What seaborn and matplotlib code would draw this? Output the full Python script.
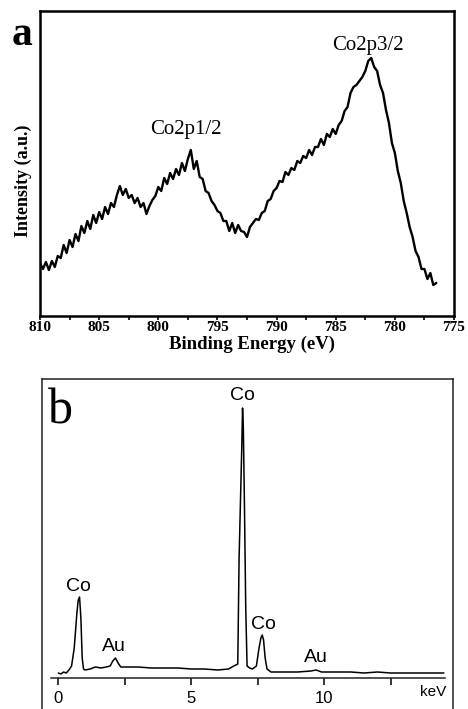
import pandas as pd
import matplotlib
matplotlib.use('Agg')
import matplotlib.pyplot as plt
import seaborn as sns

# XPS Co2p spectrum (panel a)
xps_energy = [
    810.0, 809.75, 809.5, 809.25, 809.0, 808.75, 808.5, 808.25,
    808.0, 807.75, 807.5, 807.25, 807.0, 806.75, 806.5, 806.25,
    806.0, 805.75, 805.5, 805.25, 805.0, 804.75, 804.5, 804.25,
    804.0, 803.75, 803.5, 803.25, 803.0, 802.75, 802.5, 802.25,
    802.0, 801.75, 801.5, 801.25, 801.0, 800.75, 800.5, 800.25,
    800.0, 799.75, 799.5, 799.25, 799.0, 798.75, 798.5, 798.25,
    798.0, 797.75, 797.5, 797.25, 797.0, 796.75, 796.5, 796.25,
    796.0, 795.75, 795.5, 795.25, 795.0, 794.75, 794.5, 794.25,
    794.0, 793.75, 793.5, 793.25, 793.0, 792.75, 792.5, 792.25,
    792.0, 791.75, 791.5, 791.25, 791.0, 790.75, 790.5, 790.25,
    790.0, 789.75, 789.5, 789.25, 789.0, 788.75, 788.5, 788.25,
    788.0, 787.75, 787.5, 787.25, 787.0, 786.75, 786.5, 786.25,
    786.0, 785.75, 785.5, 785.25, 785.0, 784.75, 784.5, 784.25,
    784.0, 783.75, 783.5, 783.25, 783.0, 782.75, 782.5, 782.25,
    782.0, 781.75, 781.5, 781.25, 781.0, 780.75, 780.5, 780.25,
    780.0, 779.75, 779.5, 779.25, 779.0, 778.75, 778.5, 778.25,
    778.0, 777.75, 777.5, 777.25, 777.0, 776.75, 776.5,
]
xps_counts = [
    50, 44, 51, 43, 52, 46, 57, 55,
    68, 60, 73, 66, 79, 72, 87, 80,
    92, 84, 98, 90, 101, 94, 106, 99,
    110, 106, 118, 127, 118, 124, 115, 118,
    110, 115, 106, 110, 99, 107, 113, 117,
    126, 122, 135, 129, 140, 134, 144, 138,
    150, 142, 154, 163, 144, 152, 136, 134,
    122, 120, 112, 108, 102, 100, 92, 92,
    82, 90, 80, 88, 82, 81, 76, 86,
    90, 94, 93, 100, 102, 112, 114, 122,
    125, 132, 131, 141, 138, 145, 143, 152,
    150, 157, 155, 163, 158, 166, 166, 174,
    168, 179, 176, 184, 179, 188, 192, 202,
    206, 220, 226, 228, 232, 236, 242, 252,
    255, 246, 242, 228, 220, 203, 190, 170,
    160, 142, 130, 112, 100, 86, 76, 62,
    56, 44, 44, 34, 40, 28, 30,
]
xps_ticks = [810, 805, 800, 795, 790, 785, 780, 775]
xps_minor = [807.5, 802.5, 797.5, 792.5, 787.5, 782.5, 777.5]
xps_peaks = ['Co2p1/2', 'Co2p3/2']
xps_peak_pos = [797.7, 782.3]
xps_peak_y = [183, 267]

# EDS spectrum (panel b)
eds_kev = [
    0.0, 0.1, 0.2, 0.3, 0.4, 0.5, 0.6, 0.7, 0.75, 0.8, 0.85, 0.9, 0.95,
    1.0, 1.2, 1.4, 1.6, 1.8, 1.95, 2.05, 2.15, 2.25, 2.35, 2.6, 3.0,
    3.5, 4.0, 4.5, 5.0, 5.5, 6.0, 6.4, 6.6, 6.75, 6.8, 6.85, 6.9, 6.93,
    6.96, 7.0, 7.05, 7.1, 7.2, 7.3, 7.45, 7.55, 7.62, 7.67, 7.72, 7.78,
    7.85, 8.0, 8.5, 9.0, 9.5, 9.7, 9.9, 10.5, 11.0, 11.5, 12.0, 12.5,
    13.0, 13.5, 14.0, 14.5,
]
eds_counts = [
    5, 4, 6, 5, 8, 12, 30, 65, 78, 81, 60, 20, 9,
    8, 9, 11, 10, 11, 12, 17, 20, 15, 11, 11, 11,
    10, 10, 10, 9, 9, 8, 9, 12, 14, 120, 175, 230, 270,
    250, 175, 70, 12, 10, 9, 12, 30, 40, 43, 38, 20,
    9, 6, 6, 6, 7, 8, 6, 6, 6, 5, 6, 5,
    5, 5, 5, 5,
]
eds_labels = ['Co', 'Au', 'Co', 'Co', 'Au']
eds_label_x = [0.74, 2.1, 6.93, 7.7, 9.7]
eds_label_y = [92, 32, 283, 54, 21]

sns.set_style('white')
plt.rcParams['font.family'] = ['Liberation Serif', 'DejaVu Serif']
plt.rcParams['text.color'] = 'black'
plt.rcParams['axes.labelcolor'] = 'black'
plt.rcParams['xtick.color'] = 'black'

fig = plt.figure(figsize=(4.68, 7.09), dpi=100)

# ---- panel a ----
ax1 = fig.add_axes([0.0855, 0.5543, 0.8846, 0.4302])
sns.lineplot(x=xps_energy, y=xps_counts, ax=ax1, color='black',
             lw=1.7, estimator=None, sort=False)
ax1.set_xlim(810, 775)
ax1.set_ylim(-3, 302)
ax1.set_yticks([])
ax1.set_xticks(xps_ticks)
ax1.set_xticks(xps_minor, minor=True)
ax1.tick_params(axis='x', which='both', direction='out', length=3, width=1.2,
                pad=0.5, labelsize=11, bottom=True)
for lab in ax1.get_xticklabels():
    lab.set_fontweight('bold')
for s in ax1.spines.values():
    s.set_linewidth(1.8)
    s.set_color('black')
ax1.set_xlabel('Binding Energy (eV)', fontsize=13.5, fontweight='bold')
ax1.xaxis.set_label_coords(0.512, -0.066)
ax1.set_ylabel('Intensity (a.u.)', fontsize=13, fontweight='bold')
ax1.yaxis.set_label_coords(-0.02, 0.443)
for name, xp, yp in zip(xps_peaks, xps_peak_pos, xps_peak_y):
    ax1.text(xp, yp, name, fontsize=15, ha='center', va='center')
fig.text(12 / 468, 1 - 45 / 709, 'a', fontsize=30, fontweight='bold',
         ha='left', va='baseline')

# ---- panel b ----
ax2 = fig.add_axes([0.0897, 0.0, 0.878, 0.4654])
sns.lineplot(x=eds_kev, y=eds_counts, ax=ax2, color='black',
             lw=1.1, estimator=None, sort=False)
ax2.set_xlim(-0.613, 14.84)
ax2.set_ylim(-31, 299)
ax2.set_yticks([])
ax2.set_xticks([0, 5, 10])
ax2.set_xticks([2.5, 7.5, 12.5], minor=True)
ax2.spines['bottom'].set_position(('data', 0))
ax2.spines['bottom'].set_bounds(-0.29, 14.54)
for s in ax2.spines.values():
    s.set_linewidth(1.1)
    s.set_color('#222222')
ax2.tick_params(axis='x', which='both', direction='out', length=5, width=1.1,
                pad=4, bottom=True)
ax2.set_xticklabels(['0', '5', '10'], family='Liberation Sans', fontsize=12)
for name, xp, yp in zip(eds_labels, eds_label_x, eds_label_y):
    ax2.text(xp, yp, name, family='Liberation Sans', fontsize=14,
             ha='center', va='center')
ax2.text(14.1, -14, 'keV', family='Liberation Sans', fontsize=11,
         ha='center', va='center')
fig.text(48 / 468, 1 - 423 / 709, 'b', fontsize=36, ha='left',
         va='baseline')

fig.savefig('out.png', dpi=100)
